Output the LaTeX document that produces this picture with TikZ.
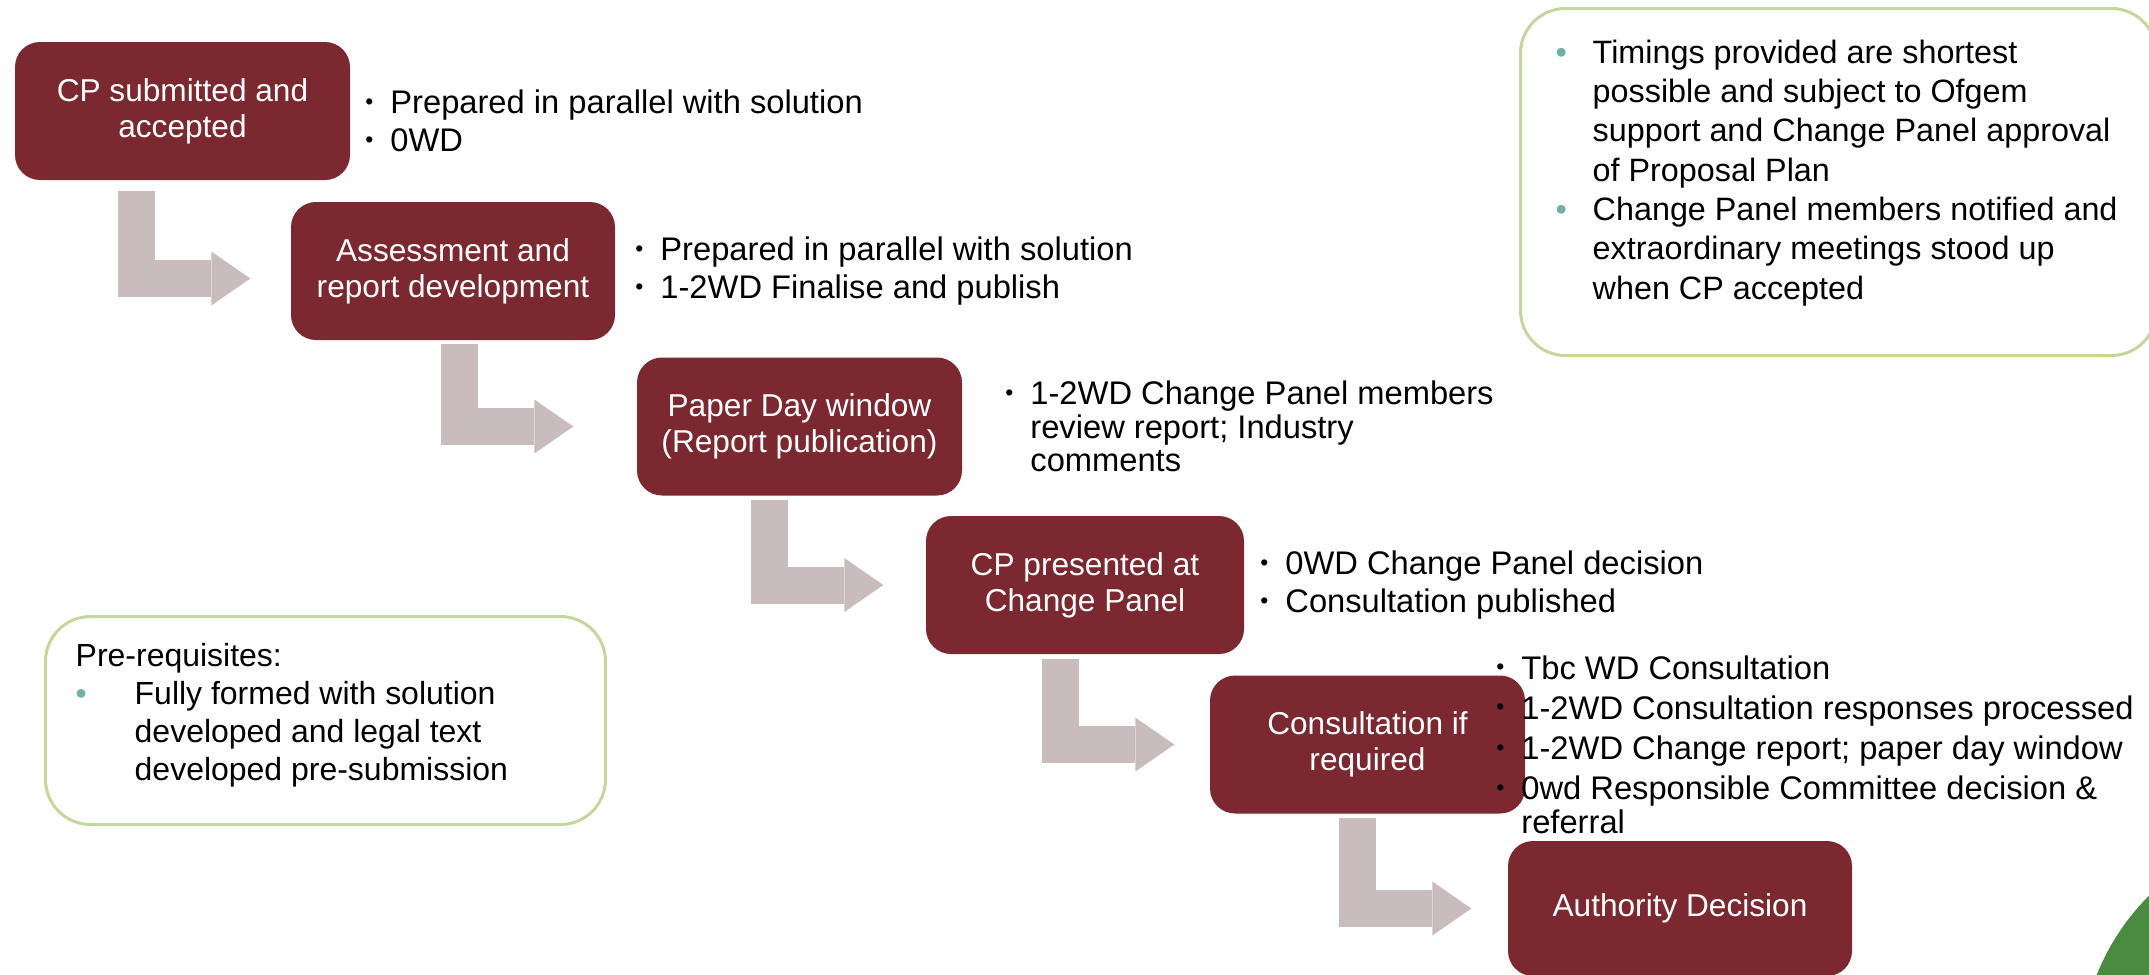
\documentclass[tikz,border=0pt]{standalone}
\usepackage{fontspec}
\setmainfont{Liberation Sans}
\usetikzlibrary{positioning,arrows.meta}

\definecolor{boxred}{HTML}{7B2830}
\definecolor{arrowgrey}{HTML}{C9BCBC}
\definecolor{notegreen}{HTML}{C4D79B}
\definecolor{dotteal}{HTML}{6FB1A5}
\definecolor{leafgreen}{HTML}{4A8B41}

\newcommand{\bul}{\makebox[2.5mm][l]{\raisebox{0.25ex}{\fontsize{6.5}{6.5}\selectfont\textbullet}}}
\newcommand{\ind}{\hspace*{2.5mm}}
\newcommand{\tbul}[1]{\makebox[#1][l]{\textcolor{dotteal}{\textbullet}}}

\tikzset{
  stepbox/.style={rounded corners=2.5mm, fill=boxred, text=white, align=center,
    minimum height=13.8mm, inner sep=0pt, font=\fontsize{9}{10.2}\selectfont},
  steptext/.style={align=left, inner sep=0pt, font=\fontsize{9.3}{9.6}\selectfont},
  flowarrow/.style={arrowgrey, line width=3.7mm,
    -{Triangle[length=3.9mm, width=5.4mm, line width=0pt]}},
  noteframe/.style={draw=notegreen, line width=0.3mm, rounded corners=4.5mm,
    inner sep=0pt, anchor=north west},
  notetext/.style={align=left, inner sep=0pt, anchor=north west},
}

\begin{document}
\begin{tikzpicture}[x=0.1mm, y=-0.1mm]
\useasboundingbox (0,0) rectangle (2149,974);
% corner leaf
\begin{scope}
\clip (0,0) rectangle (2149,974);
\fill[leafgreen] (2315,1062) circle (23.5mm);
\end{scope}
% steps
\node[stepbox, minimum width=33.5mm] (b1) at (182.5,111) {CP submitted and\\accepted};
\node[stepbox, minimum width=32.4mm] (b2) at (453,271) {Assessment and\\report development};
\node[stepbox, minimum width=32.5mm] (b3) at (799.5,426.5) {Paper Day window\\(Report publication)};
\node[stepbox, minimum width=31.8mm] (b4) at (1085,585) {CP presented at\\Change Panel};
\node[stepbox, minimum width=31.5mm] (b5) at (1367.5,744.5) {Consultation if\\required};
\node[stepbox, minimum width=34.4mm, minimum height=13.5mm] (b6) at (1680,908.5) {Authority Decision};
% arrows
\draw[flowarrow] ([xshift=-4.6mm,yshift=-1mm]b1.south) |- ([xshift=-4mm,yshift=-0.75mm]b2.west);
\draw[flowarrow] ([xshift=0.65mm,yshift=-0.3mm]b2.south) |- ([xshift=-6.3mm]b3.west);
\draw[flowarrow] ([xshift=-3mm,yshift=-0.35mm]b3.south) |- ([xshift=-4.2mm]b4.west);
\draw[flowarrow] ([xshift=-2.45mm,yshift=-0.4mm]b4.south) |- ([xshift=-3.5mm]b5.west);
\draw[flowarrow] ([xshift=-1mm,yshift=-0.35mm]b5.south) |- ([xshift=-3.6mm]b6.west);
% timings per step
\node[steptext, right=1.4mm of b1, yshift=-1mm] (t1) {\bul Prepared in parallel with solution\\[1.2pt]
  \bul 0WD};
\node[steptext, right=1.9mm of b2] (t2) {\bul Prepared in parallel with solution\\[1.2pt]
  \bul 1-2WD Finalise and publish};
\node[steptext, right=4.2mm of b3] (t3) {\bul 1-2WD Change Panel members\\
  \ind review report; Industry\\
  \ind comments};
\node[steptext, right=1.5mm of b4] (t4) {\bul 0WD Change Panel decision\\[1.2pt]
  \bul Consultation published};
\node[steptext, right=-3mm of b5] (t5) {\bul Tbc WD Consultation\\[1.8pt]
  \bul 1-2WD Consultation responses processed\\[1.8pt]
  \bul 1-2WD Change report; paper day window\\[1.8pt]
  \bul 0wd Responsible Committee decision \&\\
  \ind referral};
% notes
\node[noteframe, minimum width=63.6mm, minimum height=34.7mm] (timing) at (1519,7) {};
\node[notetext, font=\fontsize{9.2}{11.2}\selectfont] (timingtext)
  at ([xshift=3.6mm,yshift=-3.2mm]timing.north west)
  {\tbul{3.7mm}Timings provided are shortest\\
   \hspace*{3.7mm}possible and subject to Ofgem\\
   \hspace*{3.7mm}support and Change Panel approval\\
   \hspace*{3.7mm}of Proposal Plan\\
   \tbul{3.7mm}Change Panel members notified and\\
   \hspace*{3.7mm}extraordinary meetings stood up\\
   \hspace*{3.7mm}when CP accepted};
\node[noteframe, minimum width=56mm, minimum height=20.8mm] (prereq) at (44,615) {};
\node[notetext, font=\fontsize{9.1}{10.8}\selectfont] (prereqtext)
  at ([xshift=3.1mm,yshift=-2.8mm]prereq.north west)
  {Pre-requisites:\\
   \tbul{5.9mm}Fully formed with solution\\
   \hspace*{5.9mm}developed and legal text\\
   \hspace*{5.9mm}developed pre-submission};
\end{tikzpicture}
\end{document}
